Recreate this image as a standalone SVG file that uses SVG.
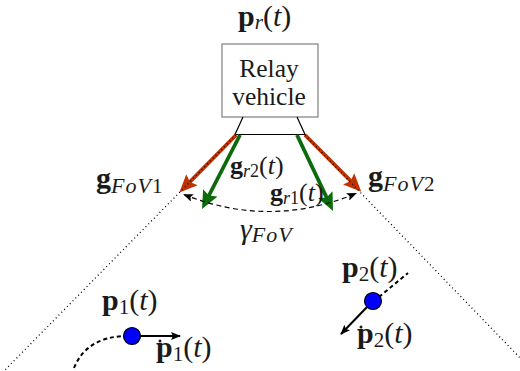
<svg xmlns="http://www.w3.org/2000/svg" width="520" height="371" viewBox="0 0 520 371">
<style>
text{font-family:'Liberation Serif','DejaVu Serif',serif;fill:#1a1a1a;font-size:30px}
.w{font-size:25.5px}
.r{font-size:26px}
.b{font-weight:bold}
.i{font-style:italic}
.s{font-size:21px;font-style:italic}
.f{font-size:22px;font-style:italic;letter-spacing:1px}
.n{font-size:21px;font-style:normal}
.s2{font-size:18px;font-style:italic}
.n2{font-size:18px;font-style:normal}
.dot{fill:none;stroke:#000;stroke-width:1.3;stroke-dasharray:1 3}
.red{stroke:#bf3300;stroke-width:3.8;fill:none}
.grn{stroke:#0b6b0b;stroke-width:3.8;fill:none}
.dash{stroke:#000;stroke-width:1.2;fill:none;stroke-dasharray:5 3.5}
</style>
<defs>
<marker id="mr" markerUnits="userSpaceOnUse" viewBox="0 0 18 16" refX="4" refY="8" markerWidth="18" markerHeight="16" orient="auto"><path d="M0,0 L18,8 L0,16 L3,8 z" fill="#bf3300"/></marker>
<marker id="mg" markerUnits="userSpaceOnUse" viewBox="0 0 18 16" refX="4" refY="8" markerWidth="18" markerHeight="16" orient="auto"><path d="M0,0 L18,8 L0,16 L3,8 z" fill="#0b6b0b"/></marker>
<marker id="mk" markerUnits="userSpaceOnUse" viewBox="0 0 10 8" refX="9" refY="4" markerWidth="10" markerHeight="8" orient="auto-start-reverse"><path d="M0,0 L10,4 L0,8 L2,4 z" fill="#000"/></marker>
</defs>

<g id="relay">
<rect x="222" y="44" width="96" height="73" fill="#fff" stroke="#888" stroke-width="1.3"/>
<text class="w" x="269" y="77" text-anchor="middle">Relay</text>
<text class="w" x="269" y="105" text-anchor="middle">vehicle</text>
<path d="M243,117 L235,134.5 L305,134.5 L297,117" fill="none" stroke="#000" stroke-width="1.2"/>
<text x="238" y="26"><tspan class="b">p</tspan><tspan class="s" dy="3">r</tspan><tspan dy="-3">(</tspan><tspan class="i">t</tspan>)</text>
</g>

<g id="connectors">
<path class="red" d="M236,135 L189.2,182.6" marker-end="url(#mr)"/>
<path class="red" d="M305,135 L351.4,181.7" marker-end="url(#mr)"/>
<path class="dot" d="M236,135 L2,373"/>
<path class="dot" d="M305,135 L522,360"/>
<path class="grn" d="M240,135 L208.4,196.5" marker-end="url(#mg)"/>
<path class="grn" d="M297,135 L327.0,198.3" marker-end="url(#mg)"/>
<path class="dash" d="M184,194.5 Q270,229 356,193.5" marker-start="url(#mk)" marker-end="url(#mk)"/>
<path d="M74,368 Q86,338 124,336" fill="none" stroke="#000" stroke-width="2" stroke-dasharray="4 3"/>
<path d="M379,297 L408,273" fill="none" stroke="#000" stroke-width="2" stroke-dasharray="4 3"/>
<path d="M140,336 L180,336" stroke="#000" stroke-width="2" marker-end="url(#mk)"/>
<path d="M367,307 L341,334" stroke="#000" stroke-width="2" marker-end="url(#mk)"/>
</g>

<g id="labels">
<text x="96" y="188"><tspan class="b">g</tspan><tspan class="f" dy="5">FoV</tspan><tspan class="n">1</tspan></text>
<text x="368" y="186"><tspan class="b">g</tspan><tspan class="f" dy="5">FoV</tspan><tspan class="n">2</tspan></text>
<text class="r" x="230" y="174"><tspan class="b">g</tspan><tspan class="s2" dy="3">r</tspan><tspan class="n2">2</tspan><tspan dy="-3">(</tspan><tspan class="i">t</tspan>)</text>
<text class="r" x="270" y="201"><tspan class="b">g</tspan><tspan class="s2" dy="3">r</tspan><tspan class="n2">1</tspan><tspan dy="-3">(</tspan><tspan class="i">t</tspan>)</text>
<text x="240" y="239"><tspan class="i">γ</tspan><tspan class="f" dy="3">FoV</tspan></text>
</g>

<g id="vehicle1">
<circle cx="132" cy="336" r="8.5" fill="#0000ff" stroke="#000" stroke-width="1.2"/>
<text x="102" y="310"><tspan class="b">p</tspan><tspan class="n" dy="4">1</tspan><tspan dy="-4">(</tspan><tspan class="i">t</tspan>)</text>
<text x="156" y="357"><tspan class="b">p</tspan><tspan class="n" dy="4">1</tspan><tspan dy="-4">(</tspan><tspan class="i">t</tspan>)</text>
<circle cx="160" cy="341" r="1.5" fill="#1a1a1a"/>
</g>

<g id="vehicle2">
<circle cx="373" cy="301" r="8.5" fill="#0000ff" stroke="#000" stroke-width="1.2"/>
<text x="342" y="277"><tspan class="b">p</tspan><tspan class="n" dy="4">2</tspan><tspan dy="-4">(</tspan><tspan class="i">t</tspan>)</text>
<text x="357" y="343"><tspan class="b">p</tspan><tspan class="n" dy="4">2</tspan><tspan dy="-4">(</tspan><tspan class="i">t</tspan>)</text>
<circle cx="361" cy="327" r="1.5" fill="#1a1a1a"/>
</g>
</svg>
